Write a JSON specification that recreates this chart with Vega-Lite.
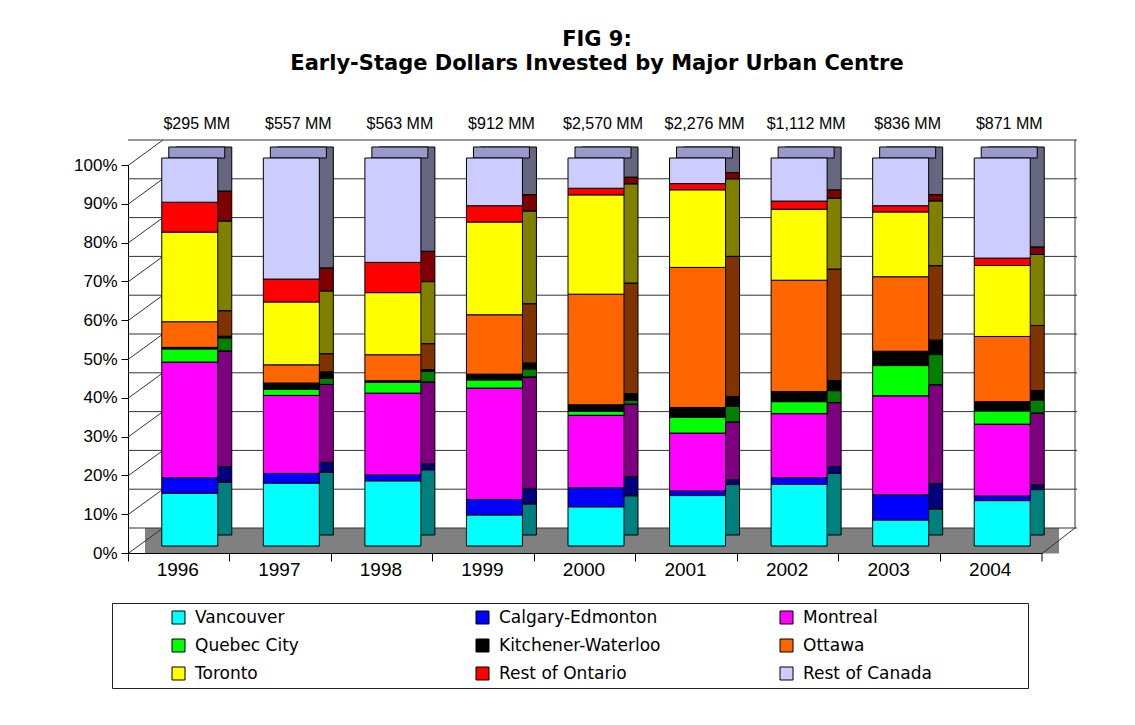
{
  "$schema": "https://vega.github.io/schema/vega-lite/v6.json",
  "width": 914,
  "height": 388,
  "autosize": {"type": "none"},
  "padding": {"left": 128, "top": 158, "right": 93, "bottom": 179},
  "background": "white",
  "config": {"view": {"stroke": null}, "axisY": {"labelOverlap": false, "tickCount": 11}},
  "title": {
    "text": ["FIG 9:", "Early-Stage Dollars Invested by Major Urban Centre"],
    "font": "DejaVu Sans", "fontWeight": "bold", "fontSize": 21, "color": "black",
    "anchor": "middle", "dx": 12, "offset": 42, "lineHeight": 24
  },
  "datasets": {
    "shares": [
      {"year": "1996", "city": "Vancouver", "k": 1, "pct": 13.6},
      {"year": "1996", "city": "Calgary-Edmonton", "k": 2, "pct": 4.0},
      {"year": "1996", "city": "Montreal", "k": 3, "pct": 29.8},
      {"year": "1996", "city": "Quebec City", "k": 4, "pct": 3.4},
      {"year": "1996", "city": "Kitchener-Waterloo", "k": 5, "pct": 0.4},
      {"year": "1996", "city": "Ottawa", "k": 6, "pct": 6.6},
      {"year": "1996", "city": "Toronto", "k": 7, "pct": 23.1},
      {"year": "1996", "city": "Rest of Ontario", "k": 8, "pct": 7.7},
      {"year": "1996", "city": "Rest of Canada", "k": 9, "pct": 11.4},
      {"year": "1997", "city": "Vancouver", "k": 1, "pct": 16.2},
      {"year": "1997", "city": "Calgary-Edmonton", "k": 2, "pct": 2.5},
      {"year": "1997", "city": "Montreal", "k": 3, "pct": 20.1},
      {"year": "1997", "city": "Quebec City", "k": 4, "pct": 1.6},
      {"year": "1997", "city": "Kitchener-Waterloo", "k": 5, "pct": 1.6},
      {"year": "1997", "city": "Ottawa", "k": 6, "pct": 4.7},
      {"year": "1997", "city": "Toronto", "k": 7, "pct": 16.2},
      {"year": "1997", "city": "Rest of Ontario", "k": 8, "pct": 5.9},
      {"year": "1997", "city": "Rest of Canada", "k": 9, "pct": 31.2},
      {"year": "1998", "city": "Vancouver", "k": 1, "pct": 16.8},
      {"year": "1998", "city": "Calgary-Edmonton", "k": 2, "pct": 1.5},
      {"year": "1998", "city": "Montreal", "k": 3, "pct": 21.1},
      {"year": "1998", "city": "Quebec City", "k": 4, "pct": 2.8},
      {"year": "1998", "city": "Kitchener-Waterloo", "k": 5, "pct": 0.4},
      {"year": "1998", "city": "Ottawa", "k": 6, "pct": 6.7},
      {"year": "1998", "city": "Toronto", "k": 7, "pct": 16.0},
      {"year": "1998", "city": "Rest of Ontario", "k": 8, "pct": 7.8},
      {"year": "1998", "city": "Rest of Canada", "k": 9, "pct": 26.9},
      {"year": "1999", "city": "Vancouver", "k": 1, "pct": 8.0},
      {"year": "1999", "city": "Calgary-Edmonton", "k": 2, "pct": 4.0},
      {"year": "1999", "city": "Montreal", "k": 3, "pct": 28.7},
      {"year": "1999", "city": "Quebec City", "k": 4, "pct": 2.1},
      {"year": "1999", "city": "Kitchener-Waterloo", "k": 5, "pct": 1.5},
      {"year": "1999", "city": "Ottawa", "k": 6, "pct": 15.3},
      {"year": "1999", "city": "Toronto", "k": 7, "pct": 23.9},
      {"year": "1999", "city": "Rest of Ontario", "k": 8, "pct": 4.2},
      {"year": "1999", "city": "Rest of Canada", "k": 9, "pct": 12.3},
      {"year": "2000", "city": "Vancouver", "k": 1, "pct": 10.1},
      {"year": "2000", "city": "Calgary-Edmonton", "k": 2, "pct": 4.9},
      {"year": "2000", "city": "Montreal", "k": 3, "pct": 18.7},
      {"year": "2000", "city": "Quebec City", "k": 4, "pct": 1.0},
      {"year": "2000", "city": "Kitchener-Waterloo", "k": 5, "pct": 1.7},
      {"year": "2000", "city": "Ottawa", "k": 6, "pct": 28.5},
      {"year": "2000", "city": "Toronto", "k": 7, "pct": 25.6},
      {"year": "2000", "city": "Rest of Ontario", "k": 8, "pct": 1.7},
      {"year": "2000", "city": "Rest of Canada", "k": 9, "pct": 7.8},
      {"year": "2001", "city": "Vancouver", "k": 1, "pct": 13.0},
      {"year": "2001", "city": "Calgary-Edmonton", "k": 2, "pct": 1.2},
      {"year": "2001", "city": "Montreal", "k": 3, "pct": 14.9},
      {"year": "2001", "city": "Quebec City", "k": 4, "pct": 4.1},
      {"year": "2001", "city": "Kitchener-Waterloo", "k": 5, "pct": 2.5},
      {"year": "2001", "city": "Ottawa", "k": 6, "pct": 36.1},
      {"year": "2001", "city": "Toronto", "k": 7, "pct": 20.0},
      {"year": "2001", "city": "Rest of Ontario", "k": 8, "pct": 1.6},
      {"year": "2001", "city": "Rest of Canada", "k": 9, "pct": 6.6},
      {"year": "2002", "city": "Vancouver", "k": 1, "pct": 15.9},
      {"year": "2002", "city": "Calgary-Edmonton", "k": 2, "pct": 1.7},
      {"year": "2002", "city": "Montreal", "k": 3, "pct": 16.5},
      {"year": "2002", "city": "Quebec City", "k": 4, "pct": 3.1},
      {"year": "2002", "city": "Kitchener-Waterloo", "k": 5, "pct": 2.6},
      {"year": "2002", "city": "Ottawa", "k": 6, "pct": 28.7},
      {"year": "2002", "city": "Toronto", "k": 7, "pct": 18.3},
      {"year": "2002", "city": "Rest of Ontario", "k": 8, "pct": 2.1},
      {"year": "2002", "city": "Rest of Canada", "k": 9, "pct": 11.1},
      {"year": "2003", "city": "Vancouver", "k": 1, "pct": 6.7},
      {"year": "2003", "city": "Calgary-Edmonton", "k": 2, "pct": 6.5},
      {"year": "2003", "city": "Montreal", "k": 3, "pct": 25.5},
      {"year": "2003", "city": "Quebec City", "k": 4, "pct": 7.8},
      {"year": "2003", "city": "Kitchener-Waterloo", "k": 5, "pct": 3.7},
      {"year": "2003", "city": "Ottawa", "k": 6, "pct": 19.2},
      {"year": "2003", "city": "Toronto", "k": 7, "pct": 16.7},
      {"year": "2003", "city": "Rest of Ontario", "k": 8, "pct": 1.6},
      {"year": "2003", "city": "Rest of Canada", "k": 9, "pct": 12.3},
      {"year": "2004", "city": "Vancouver", "k": 1, "pct": 11.7},
      {"year": "2004", "city": "Calgary-Edmonton", "k": 2, "pct": 1.2},
      {"year": "2004", "city": "Montreal", "k": 3, "pct": 18.5},
      {"year": "2004", "city": "Quebec City", "k": 4, "pct": 3.4},
      {"year": "2004", "city": "Kitchener-Waterloo", "k": 5, "pct": 2.4},
      {"year": "2004", "city": "Ottawa", "k": 6, "pct": 16.8},
      {"year": "2004", "city": "Toronto", "k": 7, "pct": 18.3},
      {"year": "2004", "city": "Rest of Ontario", "k": 8, "pct": 1.9},
      {"year": "2004", "city": "Rest of Canada", "k": 9, "pct": 25.8}
    ],
    "totals": [
      {"year": "1996", "total": "$295 MM"},
      {"year": "1997", "total": "$557 MM"},
      {"year": "1998", "total": "$563 MM"},
      {"year": "1999", "total": "$912 MM"},
      {"year": "2000", "total": "$2,570 MM"},
      {"year": "2001", "total": "$2,276 MM"},
      {"year": "2002", "total": "$1,112 MM"},
      {"year": "2003", "total": "$836 MM"},
      {"year": "2004", "total": "$871 MM"}
    ],
    "grid": [
      {"v": 0}, {"v": 10}, {"v": 20}, {"v": 30}, {"v": 40}, {"v": 50},
      {"v": 60}, {"v": 70}, {"v": 80}, {"v": 90}, {"v": 100}
    ]
  },
  "layer": [
    {
      "data": {"values": [{"part": "floor"}]},
      "mark": {"type": "rect", "fill": "#808080", "xOffset": 17, "x2Offset": 17, "yOffset": 7.5, "y2Offset": -18},
      "encoding": {
        "x": {"datum": "1996", "type": "nominal", "bandPosition": 0, "title": null, "scale": {"type": "band", "paddingInner": 0, "paddingOuter": 0}},
        "x2": {"datum": "2004", "bandPosition": 1},
        "y": {"datum": 0, "type": "quantitative", "title": null, "scale": {"domain": [0, 100]}},
        "y2": {"datum": 0}
      }
    },
    {
      "data": {"name": "grid"},
      "mark": {"type": "rule", "color": "#333333", "strokeWidth": 1, "xOffset": 35, "x2Offset": 33, "yOffset": -18},
      "encoding": {
        "y": {"field": "v", "type": "quantitative", "title": null}
      }
    },
    {
      "data": {"name": "grid"},
      "mark": {"type": "rule", "color": "#333333", "strokeWidth": 1, "yOffset": 7.5, "y2Offset": -18, "x2Offset": 35},
      "encoding": {
        "x": {"datum": "1996", "type": "nominal", "bandPosition": 0, "title": null, "scale": {"type": "band", "paddingInner": 0, "paddingOuter": 0}},
        "x2": {"datum": "1996", "bandPosition": 0},
        "y": {"field": "v", "type": "quantitative", "title": null},
        "y2": {"field": "v"}
      }
    },
    {
      "data": {"values": [{"part": "rightedge"}]},
      "mark": {"type": "rule", "color": "#333333", "strokeWidth": 1, "xOffset": 33, "yOffset": -18, "y2Offset": -18},
      "encoding": {
        "x": {"datum": "2004", "type": "nominal", "bandPosition": 1, "title": null, "scale": {"type": "band", "paddingInner": 0, "paddingOuter": 0}},
        "y": {"datum": 0, "type": "quantitative", "title": null},
        "y2": {"datum": 100}
      }
    },
    {
      "data": {"values": [{"part": "floorright"}]},
      "mark": {"type": "rule", "color": "#333333", "strokeWidth": 1, "yOffset": 7.5, "y2Offset": -18, "x2Offset": 33},
      "encoding": {
        "x": {"datum": "2004", "type": "nominal", "bandPosition": 1, "title": null, "scale": {"type": "band", "paddingInner": 0, "paddingOuter": 0}},
        "x2": {"datum": "2004", "bandPosition": 1},
        "y": {"datum": 0, "type": "quantitative", "title": null},
        "y2": {"datum": 0}
      }
    },
    {
      "data": {"values": [{"part": "endtick"}]},
      "mark": {"type": "rule", "color": "black", "strokeWidth": 1, "yOffset": 7.5, "y2Offset": 15.5},
      "encoding": {
        "x": {"datum": "2004", "type": "nominal", "bandPosition": 1, "title": null, "scale": {"type": "band", "paddingInner": 0, "paddingOuter": 0}},
        "y": {"datum": 0, "type": "quantitative", "title": null},
        "y2": {"datum": 0}
      }
    },
    {
      "data": {"name": "shares"},
      "mark": {"type": "bar", "width": 56, "xOffset": 25, "yOffset": -11, "y2Offset": -11, "strokeWidth": 0},
      "encoding": {
        "x": {"field": "year", "type": "nominal", "title": null, "scale": {"type": "band", "paddingInner": 0, "paddingOuter": 0}},
        "y": {"field": "pct", "type": "quantitative", "stack": "zero", "title": null},
        "order": {"field": "k", "type": "quantitative"},
        "color": {"field": "city", "type": "nominal"}
      }
    },
    {
      "data": {"name": "shares"},
      "mark": {"type": "bar", "width": 56, "xOffset": 25, "yOffset": -11, "y2Offset": -11, "fill": "black", "fillOpacity": 0.5, "stroke": "black", "strokeWidth": 1},
      "encoding": {
        "x": {"field": "year", "type": "nominal", "title": null, "scale": {"type": "band", "paddingInner": 0, "paddingOuter": 0}},
        "y": {"field": "pct", "type": "quantitative", "stack": "zero", "title": null},
        "order": {"field": "k", "type": "quantitative"}
      }
    },
    {
      "data": {"name": "totals"},
      "mark": {"type": "bar", "width": 56, "xOffset": 18, "yOffset": -11, "y2Offset": 0, "fill": "#9999cc", "stroke": "black", "strokeWidth": 1},
      "encoding": {
        "x": {"field": "year", "type": "nominal", "title": null, "scale": {"type": "band", "paddingInner": 0, "paddingOuter": 0}},
        "y": {"datum": 100, "type": "quantitative", "title": null},
        "y2": {"datum": 100}
      }
    },
    {
      "data": {"name": "shares"},
      "mark": {"type": "bar", "width": 56, "xOffset": 11, "stroke": "black", "strokeWidth": 1},
      "encoding": {
        "x": {
          "field": "year", "type": "nominal", "title": null,
          "scale": {"type": "band", "paddingInner": 0, "paddingOuter": 0},
          "axis": {
            "bandPosition": 0, "labelOffset": -1, "labelAlign": "center", "labelAngle": 0, "offset": 7,
            "domainColor": "black", "tickColor": "black", "tickSize": 8,
            "labelFont": "Liberation Sans", "labelFontSize": 19, "labelColor": "black", "labelPadding": 8,
            "grid": false
          }
        },
        "y": {
          "field": "pct", "type": "quantitative", "stack": "zero", "title": null,
          "scale": {"domain": [0, 100], "nice": false},
          "axis": {
            "values": [0, 10, 20, 30, 40, 50, 60, 70, 80, 90, 100],
            "tickCount": 11,
            "labelExpr": "datum.value + '%'", "labelOverlap": false,
            "offset": 7, "translate": 7.5,
            "domainColor": "black", "tickColor": "black", "tickSize": 7,
            "labelFont": "Liberation Sans", "labelFontSize": 17, "labelColor": "black", "labelPadding": 4,
            "grid": false
          }
        },
        "order": {"field": "k", "type": "quantitative"},
        "color": {
          "field": "city", "type": "nominal",
          "scale": {
            "domain": ["Vancouver", "Calgary-Edmonton", "Montreal", "Quebec City", "Kitchener-Waterloo", "Ottawa", "Toronto", "Rest of Ontario", "Rest of Canada"],
            "range": ["#00ffff", "#0000ff", "#ff00ff", "#00ff00", "#000000", "#ff6600", "#ffff00", "#ff0000", "#ccccff"]
          },
          "legend": {
            "orient": "none", "legendX": -16, "legendY": 445, "direction": "horizontal",
            "columns": 3, "gridAlign": "all", "columnPadding": 65, "rowPadding": 10,
            "strokeColor": "#222222", "padding": 6,
            "symbolType": "square", "symbolSize": 169, "symbolStrokeColor": "black", "symbolStrokeWidth": 1, "symbolOpacity": 1,
            "symbolOffset": 52, "labelOffset": 8,
            "labelFont": "DejaVu Sans", "labelFontSize": 17, "labelColor": "black", "labelLimit": 300,
            "title": ".", "titleOrient": "right", "titleOpacity": 0, "titlePadding": 86
          }
        }
      }
    },
    {
      "data": {"name": "totals"},
      "mark": {"type": "text", "xOffset": 18, "dy": -34, "baseline": "middle", "align": "center", "font": "Liberation Sans", "fontSize": 16, "color": "black"},
      "encoding": {
        "x": {"field": "year", "type": "nominal", "title": null, "scale": {"type": "band", "paddingInner": 0, "paddingOuter": 0}},
        "y": {"datum": 100, "type": "quantitative", "title": null},
        "text": {"field": "total"}
      }
    }
  ]
}
